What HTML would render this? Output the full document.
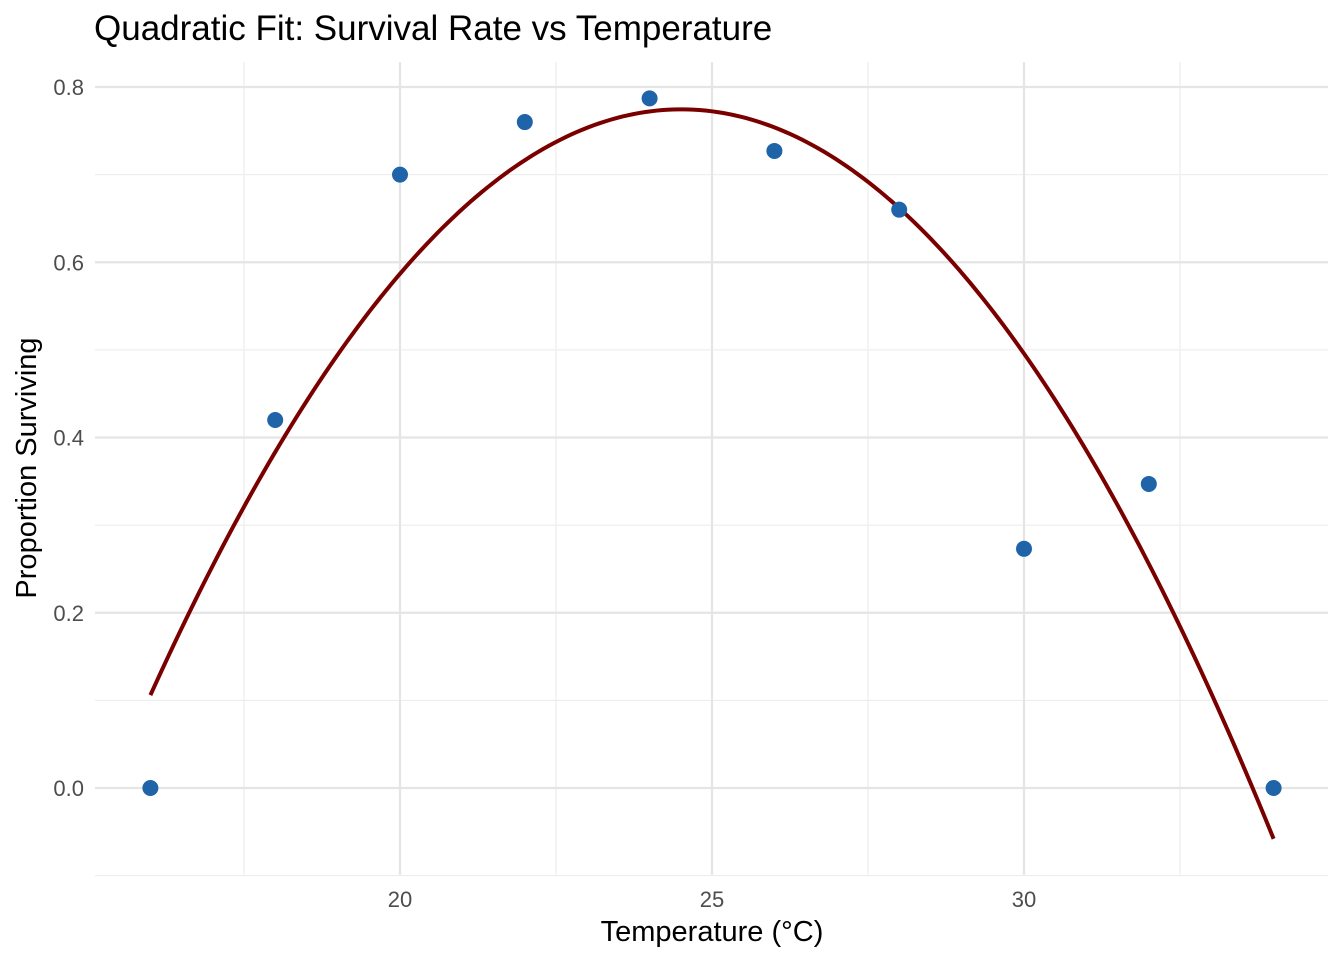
<!DOCTYPE html>
<html><head><meta charset="utf-8"><style>
body{margin:0;background:#fff;}
svg text{font-family:"Liberation Sans",Arial,sans-serif;}
</style></head><body>
<svg id="chart" width="1344" height="960">
<text x="94" y="40" font-size="35" fill="#000">Quadratic Fit: Survival Rate vs Temperature</text>
<g id="grid"></g>
<g id="ticks"></g>
<g id="marks"></g>
<text x="712" y="941" font-size="29" text-anchor="middle" fill="#000">Temperature (°C)</text>
<text transform="translate(36,468) rotate(-90)" font-size="29" text-anchor="middle" fill="#000">Proportion Surviving</text>
</svg>
<script>
const temps=[16,18,20,22,24,26,28,30,32,34];
const survival=[0,0.42,0.70,0.76,0.787,0.727,0.66,0.273,0.347,0];
const xTicks=[20,25,30];
const yTicks=[0,0.2,0.4,0.6,0.8];
const X0=95,X1=1328,Y0=62,Y1=875;
const xs=v=>400+(v-20)*62.4;
const ys=v=>788-v*876.25;
const NS="http://www.w3.org/2000/svg";
function mk(tag,attrs,parent){const e=document.createElementNS(NS,tag);for(const k in attrs)e.setAttribute(k,attrs[k]);parent.appendChild(e);return e;}
const grid=document.getElementById('grid'),ticks=document.getElementById('ticks'),marks=document.getElementById('marks');
for(let v=17.5;v<=32.5;v+=5){const l=mk('line',{x1:xs(v),x2:xs(v),y1:Y0,y2:Y1,stroke:'#ebebeb','stroke-width':1.1},grid);

}
for(let v=-0.1;v<=0.75;v+=0.2){const l=mk('line',{x1:X0,x2:X1,y1:ys(v),y2:ys(v),stroke:'#ebebeb','stroke-width':1.1},grid);

}
xTicks.forEach(v=>{const l=mk('line',{x1:xs(v),x2:xs(v),y1:Y0,y2:Y1,stroke:'#e5e5e5','stroke-width':2.2},grid);


const t=mk('text',{x:xs(v),y:907,'font-size':22,'text-anchor':'middle',fill:'#4d4d4d'},ticks);t.textContent=v;

});
yTicks.forEach(v=>{const l=mk('line',{x1:X0,x2:X1,y1:ys(v),y2:ys(v),stroke:'#e5e5e5','stroke-width':2.2},grid);


const t=mk('text',{x:84,y:ys(v)+8,'font-size':22,'text-anchor':'end',fill:'#4d4d4d'},ticks);t.textContent=v.toFixed(1);

});
const n=temps.length;let S=[0,0,0,0,0],T=[0,0,0];
for(let i=0;i<n;i++){const x=temps[i],y=survival[i];for(let k=0;k<5;k++)S[k]+=Math.pow(x,k);for(let k=0;k<3;k++)T[k]+=y*Math.pow(x,k);}
const A=[[S[0],S[1],S[2],T[0]],[S[1],S[2],S[3],T[1]],[S[2],S[3],S[4],T[2]]];
for(let i=0;i<3;i++){for(let j=i+1;j<3;j++){const f=A[j][i]/A[i][i];for(let k=i;k<4;k++)A[j][k]-=f*A[i][k];}}
const c=[0,0,0];for(let i=2;i>=0;i--){let s=A[i][3];for(let k=i+1;k<3;k++)s-=A[i][k]*c[k];c[i]=s/A[i][i];}
let d='';for(let i=0;i<=200;i++){const x=temps[0]+(temps[n-1]-temps[0])*i/200;const y=c[0]+c[1]*x+c[2]*x*x;d+=(i?'L':'M')+xs(x).toFixed(2)+','+ys(y).toFixed(2);}
const p=mk('path',{d:d,fill:'none',stroke:'#7a0000','stroke-width':4},marks);


temps.forEach((t,i)=>{const cc=mk('circle',{cx:xs(t),cy:ys(survival[i]),r:8,fill:'#1f63a8'},marks);

});
</script>
</body></html>
